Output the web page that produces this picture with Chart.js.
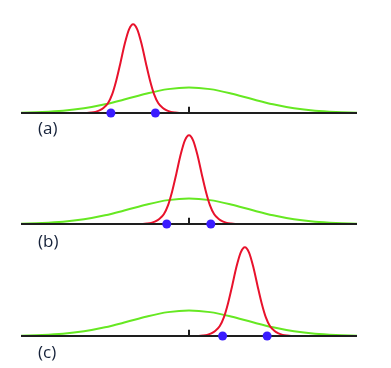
<!DOCTYPE html>
<html>
<head>
<meta charset="utf-8">
<script src="https://cdn.jsdelivr.net/npm/chart.js@4/dist/chart.umd.min.js"></script>
<style>
  body { margin: 0; background: #fff; }
  #wrap { position: relative; width: 391px; height: 368px; overflow: hidden; }
  #wrap canvas { position: absolute; left: 0; }
  .lbl { position: absolute; left: 38px; font: 17px "Open Sans", Lato, sans-serif; color: #16223a; line-height: 20px; z-index: 2; }
</style>
</head>
<body>
<div id="wrap">
  <canvas id="pa" width="391" height="120" style="top:3px"></canvas>
  <canvas id="pb" width="391" height="120" style="top:114px"></canvas>
  <canvas id="pc" width="391" height="120" style="top:226px"></canvas>
  <div class="lbl" style="top:118px">(a)</div>
  <div class="lbl" style="top:231px">(b)</div>
  <div class="lbl" style="top:342px">(c)</div>
</div>
<script>
// narrow (red) curve: offsets from its centre and heights
const redOffsets = [-1.3, -1.1, -1.0, -0.9, -0.8, -0.7, -0.6, -0.5, -0.4, -0.3, -0.2, -0.1, 0,
                    0.1, 0.2, 0.3, 0.4, 0.5, 0.6, 0.7, 0.8, 0.9, 1.0, 1.1, 1.3];
const redHeights = [0, 0.001, 0.005, 0.013, 0.03, 0.06, 0.11, 0.21, 0.37, 0.57, 0.78, 0.94, 1.00,
                    0.94, 0.78, 0.57, 0.37, 0.21, 0.11, 0.06, 0.03, 0.013, 0.005, 0.001, 0];
const redCenters = [-1.33, 0, 1.33];

// wide (green) curve, same in every panel
const greenX = [-4, -3.5, -3, -2.5, -2, -1.5, -1, -0.5, 0, 0.5, 1, 1.5, 2, 2.5, 3, 3.5, 4];
const greenY = [0.004, 0.011, 0.025, 0.053, 0.098, 0.157, 0.220, 0.269, 0.288,
                0.269, 0.220, 0.157, 0.098, 0.053, 0.025, 0.011, 0.004];

// blue dots on the axis
const bluePoints = [[-1.86, -0.80], [-0.53, 0.52], [0.80, 1.86]];

const axisRange = [-4, 4];
const tickAt = 0;
const tickLen = 0.07;

const canvasIds = ['pa', 'pb', 'pc'];

canvasIds.forEach(function(id, i) {
  const ctx = document.getElementById(id).getContext('2d');
  const red = redOffsets.map(function(o, k) { return { x: redCenters[i] + o, y: redHeights[k] }; });
  const green = greenX.map(function(x, k) { return { x: x, y: greenY[k] }; });
  new Chart(ctx, {
    type: 'scatter',
    data: {
      datasets: [
        {
          data: bluePoints[i].map(function(x) { return { x: x, y: 0 }; }),
          backgroundColor: '#3a1cff', borderWidth: 0, pointRadius: 4.5,
          showLine: false, order: 0, clip: false
        },
        {
          data: [{ x: axisRange[0], y: 0 }, { x: axisRange[1], y: 0 }],
          borderColor: '#1e1e1e', borderWidth: 2.2, pointRadius: 0,
          showLine: true, order: 1, clip: false
        },
        {
          data: [{ x: tickAt, y: 0 }, { x: tickAt, y: tickLen }],
          borderColor: '#1e1e1e', borderWidth: 2, pointRadius: 0,
          showLine: true, order: 1, clip: false
        },
        {
          data: red,
          borderColor: '#e8122c', borderWidth: 2, pointRadius: 0,
          showLine: true, cubicInterpolationMode: 'monotone', order: 2, clip: false
        },
        {
          data: green,
          borderColor: '#66e822', borderWidth: 2, pointRadius: 0,
          showLine: true, cubicInterpolationMode: 'monotone', order: 3, clip: false
        }
      ]
    },
    options: {
      responsive: false,
      animation: false,
      layout: { padding: { left: 21, right: 34, top: 10, bottom: 10 } },
      scales: {
        x: { type: 'linear', min: axisRange[0], max: axisRange[1], display: false },
        y: { min: 0, max: 1.127, display: false }
      },
      plugins: { legend: { display: false }, tooltip: { enabled: false } }
    }
  });
});
</script>
</body>
</html>
